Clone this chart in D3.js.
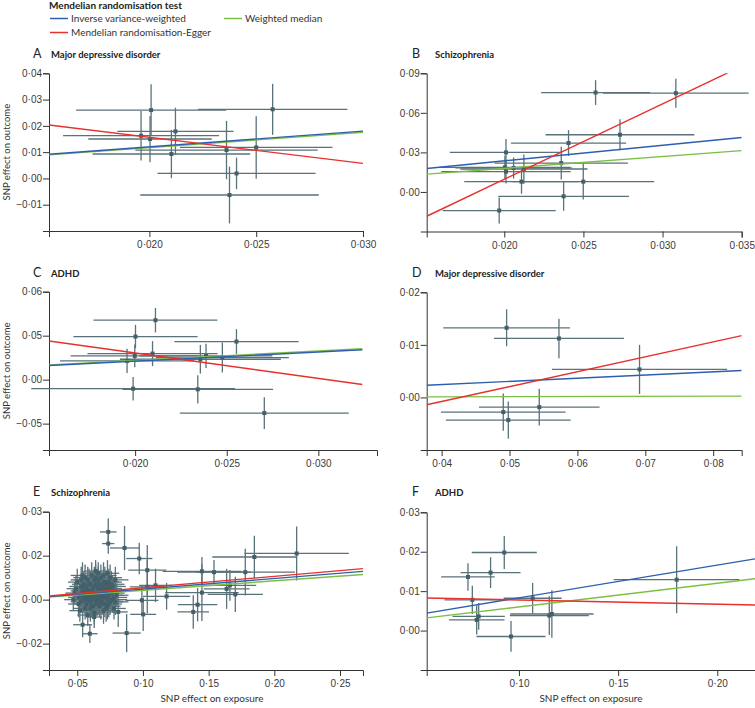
<!DOCTYPE html>
<html><head><meta charset="utf-8">
<script src="https://cdn.jsdelivr.net/npm/d3@7"></script>
<style>
body{margin:0;background:#fff;}
svg{display:block;font-family:Lato,"Open Sans",sans-serif;}
.tick text{fill:#3a3a3a;font-size:10px;}
.axis path,.axis line{stroke:#333;stroke-width:1;}
</style></head><body>
<svg id="chart" width="755" height="708"></svg>
<script>
// ---------- DATA ----------
const methodNames = ["Inverse variance-weighted", "Mendelian randomisation-Egger", "Weighted median"];
const panelLetters = ["A", "B", "C", "D", "E", "F"];
const panelTitles = ["Major depressive disorder", "Schizophrenia", "ADHD", "Major depressive disorder", "Schizophrenia", "ADHD"];

// each SNP: [exposure effect, outcome effect, exposure CI half-width, outcome CI half-width]
const snpsA = [
  [0.01961, 0.01625, 0.00365, 0.0094], [0.02003, 0.0150, 0.00289, 0.0088], [0.02008, 0.0260, 0.00351, 0.0098],
  [0.02122, 0.0179, 0.00272, 0.0090], [0.02103, 0.0093, 0.00369, 0.0092], [0.02361, 0.0108, 0.00427, 0.0111],
  [0.02408, 0.0019, 0.00370, 0.0060], [0.02375, -0.0063, 0.00418, 0.0108], [0.02500, 0.0118, 0.00357, 0.0119],
  [0.02577, 0.0263, 0.00350, 0.0097]
];
const snpsB = [
  [0.02577, 0.0754, 0.00344, 0.0094], [0.03084, 0.0749, 0.0046, 0.0110], [0.02731, 0.0434, 0.0047, 0.0118],
  [0.02406, 0.0371, 0.00364, 0.0098], [0.02011, 0.0300, 0.00355, 0.0101], [0.02360, 0.0219, 0.00421, 0.0124],
  [0.02004, 0.0187, 0.00413, 0.0089], [0.02011, 0.0154, 0.00409, 0.0089], [0.02059, 0.0182, 0.00368, 0.0080],
  [0.02124, 0.0174, 0.00402, 0.0111], [0.02109, 0.0078, 0.00362, 0.0092], [0.02499, 0.0078, 0.00448, 0.0136],
  [0.02375, -0.0033, 0.00413, 0.0110], [0.01968, -0.0141, 0.00357, 0.0098]
];
const snpsC = [
  [0.02111, 0.0676, 0.00338, 0.0139], [0.02002, 0.0490, 0.00339, 0.0133], [0.02553, 0.0433, 0.00339, 0.0141],
  [0.02095, 0.0296, 0.00355, 0.0142], [0.01998, 0.0270, 0.00350, 0.0130], [0.01956, 0.0213, 0.00366, 0.0137],
  [0.02356, 0.0232, 0.00439, 0.0163], [0.02387, 0.0270, 0.00362, 0.0139], [0.02476, 0.0251, 0.00363, 0.0171],
  [0.01989, -0.0103, 0.00556, 0.0133], [0.02342, -0.0110, 0.00411, 0.0161], [0.02705, -0.0380, 0.00461, 0.0180]
];
const snpsD = [
  [0.04957, 0.01325, 0.00933, 0.00352], [0.05728, 0.01122, 0.00958, 0.00375], [0.06915, 0.00533, 0.01291, 0.00466],
  [0.05438, -0.00184, 0.00888, 0.00349], [0.04908, -0.00279, 0.00918, 0.00355], [0.04982, -0.00431, 0.00920, 0.00355]
];
const snpsE = [
  [0.2170, 0.0210, 0.0397, 0.0123], [0.1848, 0.0194, 0.0320, 0.0097], [0.1779, 0.0125, 0.0378, 0.0106],
  [0.1449, 0.0129, 0.0300, 0.0065], [0.1541, 0.0125, 0.0280, 0.0055], [0.1637, 0.0049, 0.0175, 0.0091],
  [0.1662, 0.0065, 0.0200, 0.0070], [0.1703, 0.0024, 0.0210, 0.0080], [0.1449, 0.0032, 0.0280, 0.0129],
  [0.1416, -0.0023, 0.0150, 0.0076], [0.1383, -0.0056, 0.0120, 0.0076], [0.1180, 0.0015, 0.0180, 0.0061],
  [0.1096, 0.0065, 0.0125, 0.0076], [0.1033, 0.0058, 0.0133, 0.0121], [0.1033, 0.0134, 0.0145, 0.0114],
  [0.0972, 0.0187, 0.0100, 0.0072], [0.0860, 0.0235, 0.0112, 0.0100], [0.0736, 0.0308, 0.0063, 0.0061],
  [0.0736, 0.0255, 0.0047, 0.0046], [0.0992, -0.0003, 0.0125, 0.0068], [0.1002, -0.0067, 0.0099, 0.0076],
  [0.0876, -0.0152, 0.0107, 0.0087], [0.0596, -0.0155, 0.0059, 0.0042], [0.0541, -0.0114, 0.0072, 0.0057],
  [0.0629, -0.0079, 0.0060, 0.0050], [0.0812, -0.0056, 0.0072, 0.0068],
  [0.048, 0.003, 0.007, 0.005], [0.051, -0.002, 0.008, 0.006], [0.053, 0.006, 0.009, 0.005],
  [0.055, 0.001, 0.008, 0.007], [0.056, -0.004, 0.009, 0.005], [0.058, 0.009, 0.010, 0.006],
  [0.059, 0.004, 0.008, 0.005], [0.060, -0.001, 0.009, 0.006], [0.061, 0.011, 0.010, 0.006],
  [0.062, 0.002, 0.009, 0.005], [0.063, -0.006, 0.008, 0.005], [0.064, 0.007, 0.010, 0.006],
  [0.065, 0.000, 0.009, 0.007], [0.066, 0.005, 0.011, 0.006], [0.067, -0.003, 0.009, 0.005],
  [0.068, 0.010, 0.010, 0.006], [0.069, 0.003, 0.009, 0.005], [0.070, -0.005, 0.010, 0.006],
  [0.071, 0.008, 0.011, 0.007], [0.072, 0.001, 0.009, 0.005], [0.073, 0.012, 0.009, 0.006],
  [0.074, -0.002, 0.010, 0.006], [0.075, 0.006, 0.009, 0.005], [0.076, 0.003, 0.010, 0.006],
  [0.078, -0.004, 0.009, 0.005], [0.079, 0.009, 0.010, 0.006], [0.080, 0.002, 0.009, 0.005],
  [0.050, 0.008, 0.007, 0.006], [0.052, -0.005, 0.008, 0.005], [0.054, 0.011, 0.009, 0.006],
  [0.057, 0.000, 0.009, 0.005], [0.060, 0.007, 0.009, 0.006], [0.062, -0.003, 0.010, 0.005],
  [0.064, 0.013, 0.009, 0.005], [0.066, -0.001, 0.010, 0.006], [0.068, 0.004, 0.009, 0.005],
  [0.070, 0.011, 0.010, 0.006], [0.072, -0.004, 0.009, 0.006], [0.074, 0.005, 0.010, 0.005],
  [0.077, 0.000, 0.011, 0.006], [0.047, 0.000, 0.007, 0.005], [0.049, 0.005, 0.007, 0.006],
  [0.058, -0.007, 0.008, 0.005], [0.063, 0.009, 0.009, 0.006], [0.067, 0.002, 0.009, 0.005],
  [0.071, -0.002, 0.010, 0.006], [0.075, 0.010, 0.009, 0.006], [0.078, 0.004, 0.010, 0.005],
  [0.055, 0.004, 0.008, 0.005], [0.065, 0.003, 0.009, 0.006],
  [0.052, 0.002, 0.008, 0.006], [0.053, -0.001, 0.008, 0.005], [0.054, 0.004, 0.009, 0.006],
  [0.055, 0.007, 0.009, 0.006], [0.056, 0.002, 0.009, 0.007], [0.057, 0.005, 0.008, 0.006],
  [0.057, -0.002, 0.009, 0.006], [0.058, 0.003, 0.010, 0.005], [0.059, 0.000, 0.009, 0.006],
  [0.059, 0.007, 0.009, 0.007], [0.060, 0.004, 0.010, 0.006], [0.061, 0.001, 0.009, 0.006],
  [0.061, -0.003, 0.010, 0.005], [0.062, 0.006, 0.010, 0.007], [0.063, 0.003, 0.009, 0.006],
  [0.063, 0.000, 0.010, 0.006], [0.064, 0.002, 0.009, 0.005], [0.064, -0.002, 0.010, 0.006],
  [0.065, 0.006, 0.010, 0.006], [0.066, 0.002, 0.010, 0.007], [0.066, 0.009, 0.009, 0.006],
  [0.067, 0.005, 0.010, 0.006], [0.067, 0.000, 0.009, 0.006], [0.068, 0.001, 0.010, 0.005],
  [0.068, -0.002, 0.010, 0.007], [0.069, 0.006, 0.010, 0.006], [0.069, -0.001, 0.009, 0.006],
  [0.070, 0.004, 0.010, 0.006], [0.070, 0.001, 0.011, 0.005], [0.071, 0.005, 0.010, 0.007],
  [0.072, 0.003, 0.010, 0.006], [0.072, 0.007, 0.009, 0.006], [0.073, 0.000, 0.010, 0.006],
  [0.073, 0.004, 0.010, 0.005], [0.074, 0.002, 0.011, 0.007], [0.075, -0.001, 0.010, 0.006],
  [0.076, 0.007, 0.010, 0.006], [0.076, 0.000, 0.009, 0.005], [0.077, 0.004, 0.011, 0.006],
  [0.078, 0.001, 0.010, 0.007], [0.054, 0.000, 0.008, 0.006], [0.056, 0.006, 0.009, 0.005],
  [0.058, 0.001, 0.009, 0.006], [0.060, 0.002, 0.009, 0.007], [0.062, 0.004, 0.010, 0.006],
  [0.065, -0.001, 0.010, 0.006], [0.067, 0.007, 0.010, 0.006], [0.069, 0.002, 0.010, 0.005],
  [0.071, 0.003, 0.009, 0.006], [0.074, 0.008, 0.010, 0.006], [0.051, 0.001, 0.008, 0.005],
  [0.053, 0.009, 0.008, 0.006], [0.056, 0.010, 0.009, 0.006], [0.060, -0.004, 0.009, 0.006],
  [0.066, 0.012, 0.010, 0.005], [0.070, 0.008, 0.010, 0.006], [0.073, -0.003, 0.010, 0.006],
  [0.077, 0.006, 0.010, 0.005], [0.079, -0.001, 0.010, 0.006], [0.064, 0.010, 0.010, 0.006]
];
const snpsF = [
  [0.0926, 0.0198, 0.0164, 0.0042], [0.0857, 0.0147, 0.0151, 0.0039], [0.0743, 0.0136, 0.0135, 0.0035],
  [0.0765, 0.0078, 0.0140, 0.0036], [0.1069, 0.0082, 0.0146, 0.0039], [0.0787, 0.0027, 0.0140, 0.0037],
  [0.0797, 0.0036, 0.0132, 0.0034], [0.0960, -0.0015, 0.0174, 0.0039], [0.1153, 0.0038, 0.0199, 0.0049],
  [0.1166, 0.0042, 0.0210, 0.0060], [0.1795, 0.0129, 0.0317, 0.0085]
];
const snpSets = [snpsA, snpsB, snpsC, snpsD, snpsE, snpsF];

// MR estimates (slopes; IVW and weighted median through origin, Egger with intercept)
const ivwSlope = [0.600, 1.180, 1.050, 0.0610, 0.0480, 0.0830];
const wmSlope = [0.585, 0.895, 1.090, 0.0030, 0.0427, 0.0600];
const eggerSlope = [-0.993, 5.72, -2.90, 0.2832, 0.0521, -0.0108];
const eggerIntercept = [0.0355, -0.1048, 0.0884, -0.0121, 0.00019, 0.00885];

// axes
const xDomains = [[0.0153, 0.030], [0.0151, 0.035], [0.0153, 0.0332], [0.0378, 0.0842], [0.0285, 0.2675], [0.0535, 0.219]];
const yDomains = [[-0.02, 0.04], [-0.03, 0.09], [-0.08, 0.10], [-0.01, 0.02], [-0.032, 0.04], [-0.01, 0.03]];
const lineXRanges = [[0.0153, 0.030], [0.0151, 0.035], [0.0153, 0.0324], [0.0378, 0.0842], [0.0285, 0.2675], [0.0535, 0.219]];
const xTickValues = [[0.020, 0.025, 0.030], [0.020, 0.025, 0.030, 0.035], [0.020, 0.025, 0.030], [0.04, 0.05, 0.06, 0.07, 0.08], [0.05, 0.10, 0.15, 0.20, 0.25], [0.10, 0.15, 0.20]];
const xTickLabels = [["0·020", "0·025", "0·030"], ["0·020", "0·025", "0·030", "0·035"], ["0·020", "0·025", "0·030"], ["0·04", "0·05", "0·06", "0·07", "0·08"], ["0·05", "0·10", "0·15", "0·20", "0·25"], ["0·10", "0·15", "0·20"]];
const yTickValues = [[0.04, 0.03, 0.02, 0.01, 0.00, -0.01], [0.09, 0.06, 0.03, 0.00], [0.10, 0.05, 0.00, -0.05], [0.02, 0.01, 0.00], [0.04, 0.02, 0.00, -0.02], [0.03, 0.02, 0.01, 0.00]];
const yTickLabels = [["0·04", "0·03", "0·02", "0·01", "0·00", "−0·01"], ["0·09", "0·06", "0·03", "0·00"], ["0·06", "0·05", "0·00", "−0·05"], ["0·02", "0·01", "0·00"], ["0·03", "0·02", "0·00", "−0·02"], ["0·03", "0·02", "0·01", "0·00"]];
const yAxisTitle = "SNP effect on outcome";
const xAxisTitle = "SNP effect on exposure";
const legendTitle = "Mendelian randomisation test";

// ---------- LAYOUT / STYLE ----------
const colors = {ivw: "#2d5fae", egger: "#e8302c", wm: "#7dbf45", bar: "#5a7279", point: "#43606a", text: "#222"};
const layout = [
  {x0: 49, x1: 363, yTop: 73.3, yBot: 231, lx: 33, tx: 51, ty: 58},
  {x0: 426.7, x1: 741.7, yTop: 73.3, yBot: 231.5, lx: 412, tx: 435, ty: 58},
  {x0: 49, x1: 377, yTop: 291.7, yBot: 450, lx: 33, tx: 51, ty: 277},
  {x0: 426.7, x1: 741.7, yTop: 292.3, yBot: 450, lx: 412, tx: 435, ty: 277},
  {x0: 49, x1: 363, yTop: 511.7, yBot: 670, lx: 33, tx: 51, ty: 496},
  {x0: 426.7, x1: 755, yTop: 512.3, yBot: 670, lx: 412, tx: 435, ty: 496}
];

const svg = d3.select("#chart");

// legend
const lg = svg.append("g");
lg.append("text").attr("x", 49).attr("y", 9).attr("font-size", 10).attr("font-weight", 700).attr("fill", colors.text).text(legendTitle);
const legendItems = [
  {name: methodNames[0], color: colors.ivw, x: 50, y: 18.5},
  {name: methodNames[1], color: colors.egger, x: 50, y: 32.5},
  {name: methodNames[2], color: colors.wm, x: 224, y: 18.5}
];
legendItems.forEach(it => {
  lg.append("line").attr("x1", it.x).attr("x2", it.x + 18).attr("y1", it.y).attr("y2", it.y)
    .attr("stroke", it.color).attr("stroke-width", 1.5);
  lg.append("text").attr("x", it.x + 21).attr("y", it.y + 3.5).attr("font-size", 10).attr("fill", "#333").text(it.name);
});

const defs = svg.append("defs");

snpSets.forEach((snps, i) => {
  const L = layout[i];
  const x = d3.scaleLinear().domain(xDomains[i]).range([L.x0, L.x1]);
  const y = d3.scaleLinear().domain(yDomains[i]).range([L.yBot, L.yTop]);
  const g = svg.append("g");

  defs.append("clipPath").attr("id", "clip" + i).append("rect")
    .attr("x", L.x0).attr("y", L.yTop).attr("width", L.x1 - L.x0).attr("height", L.yBot - L.yTop);

  // axes
  g.append("g").attr("class", "axis").attr("transform", `translate(0,${L.yBot})`)
    .call(d3.axisBottom(x).tickValues(xTickValues[i]).tickFormat((d, j) => xTickLabels[i][j])
      .tickSize(6).tickSizeOuter(6).tickPadding(4));
  g.append("g").attr("class", "axis").attr("transform", `translate(${L.x0},0)`)
    .call(d3.axisLeft(y).tickValues(yTickValues[i]).tickFormat((d, j) => yTickLabels[i][j])
      .tickSize(6).tickSizeOuter(6).tickPadding(1));

  // error bars
  const eb = g.append("g").attr("stroke", colors.bar).attr("stroke-width", 1.3);
  eb.selectAll("line.h").data(snps).join("line").attr("class", "h")
    .attr("x1", d => x(d[0] - d[2])).attr("x2", d => x(d[0] + d[2]))
    .attr("y1", d => y(d[1])).attr("y2", d => y(d[1]));
  eb.selectAll("line.v").data(snps).join("line").attr("class", "v")
    .attr("x1", d => x(d[0])).attr("x2", d => x(d[0]))
    .attr("y1", d => y(d[1] - d[3])).attr("y2", d => y(d[1] + d[3]));
  g.append("g").selectAll("rect").data(snps).join("rect")
    .attr("x", d => x(d[0]) - 2).attr("y", d => y(d[1]) - 2).attr("width", 4).attr("height", 4)
    .attr("fill", colors.point);

  // regression lines
  const xr = lineXRanges[i];
  const lines = [
    {a: 0, b: wmSlope[i], c: colors.wm},
    {a: 0, b: ivwSlope[i], c: colors.ivw},
    {a: eggerIntercept[i], b: eggerSlope[i], c: colors.egger}
  ];
  const lineGen = d3.line().x(d => x(d[0])).y(d => y(d[1]));
  const lg2 = g.append("g").attr("clip-path", `url(#clip${i})`);
  lines.forEach(l => {
    lg2.append("path").attr("d", lineGen(xr.map(v => [v, l.a + l.b * v])))
      .attr("fill", "none").attr("stroke", l.c).attr("stroke-width", 1.4);
  });

  // titles
  g.append("text").attr("x", L.lx).attr("y", L.ty).attr("font-size", 12.5).attr("fill", colors.text).text(panelLetters[i]);
  g.append("text").attr("x", L.tx).attr("y", L.ty).attr("font-size", 9.5).attr("font-weight", 700).attr("fill", colors.text).text(panelTitles[i]);

  if (i % 2 === 0) {
    g.append("text").attr("transform", `translate(10,${(L.yTop + L.yBot) / 2}) rotate(-90)`)
      .attr("text-anchor", "middle").attr("font-size", 9.5).attr("fill", "#333").text(yAxisTitle);
  }
  if (i >= 4) {
    g.append("text").attr("x", i === 4 ? 212 : 591).attr("y", 702).attr("text-anchor", "middle")
      .attr("font-size", 10).attr("fill", "#333").text(xAxisTitle);
  }
});
</script>
</body></html>
